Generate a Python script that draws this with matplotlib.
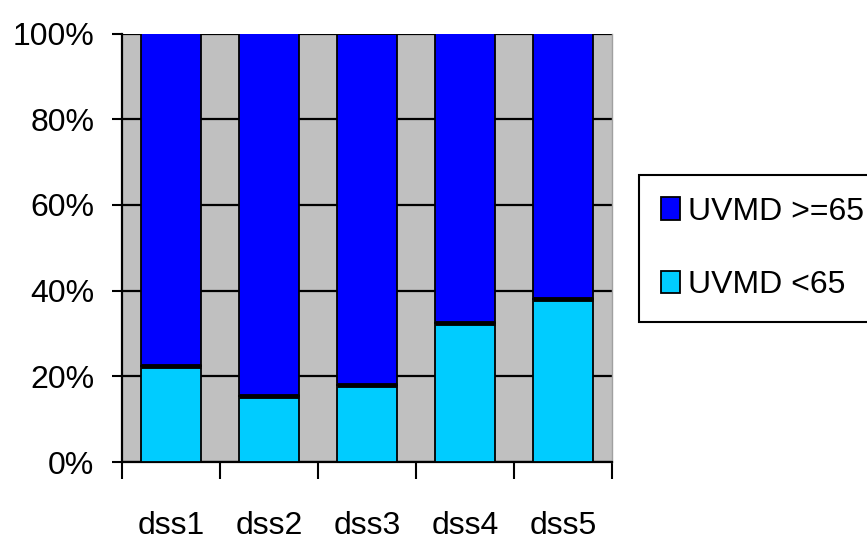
import matplotlib
matplotlib.use("Agg")
import matplotlib.pyplot as plt
import numpy as np

# Data: share of each group per dataset (percent)
categories = ["dss1", "dss2", "dss3", "dss4", "dss5"]
uvmd_below_65 = [22.5, 15.5, 18, 32.5, 38]
uvmd_65_plus = [100 - v for v in uvmd_below_65]
y_ticks = [0, 20, 40, 60, 80, 100]
y_tick_labels = ["0%", "20%", "40%", "60%", "80%", "100%"]
series_names = ["UVMD >=65", "UVMD <65"]

plt.rcParams["font.family"] = ["Liberation Sans", "DejaVu Sans"]
FS = 23

fig = plt.figure(figsize=(8.67, 5.48), dpi=100)
ax = fig.add_axes([122 / 867, 86 / 548, 490 / 867, 428.5 / 548])
ax.set_facecolor("#C0C0C0")

x = np.arange(len(categories))
width = 0.62
low = np.array(uvmd_below_65)
high = np.array(uvmd_65_plus)

ax.bar(x, low, width, color="#00CCFF", edgecolor="black", linewidth=1.3,
       zorder=3, label=series_names[1])
ax.bar(x, high, width, bottom=low, color="#0000FF", edgecolor="black",
       linewidth=1.3, zorder=3, label=series_names[0])
# heavier divider between the two stacked segments
ax.hlines(low, x - width / 2, x + width / 2, colors="black", linewidth=3.5, zorder=4)

ax.set_xlim(-0.5, len(categories) - 0.5)
ax.set_ylim(0, 100)

# horizontal gridlines
ax.set_yticks(y_ticks)
ax.set_yticklabels(y_tick_labels, fontsize=FS)
ax.yaxis.grid(True, color="black", linewidth=1.6, zorder=1)
ax.set_axisbelow(True)
ax.tick_params(axis="y", length=7, width=1.5, pad=13, color="black")

# category ticks between bars, labels centred under bars
ax.set_xticks(np.arange(len(categories) + 1) - 0.5)
ax.set_xticklabels([])
ax.set_xticks(x, minor=True)
ax.set_xticklabels(categories, minor=True, fontsize=FS)
ax.tick_params(axis="x", which="major", length=12, width=1.5, direction="out")
ax.tick_params(axis="x", which="minor", length=0, pad=35)

ax.spines["top"].set_visible(False)
ax.spines["right"].set_color("#A0A0A0")
ax.spines["right"].set_linewidth(1.0)
ax.spines["left"].set_linewidth(1.6)
ax.spines["bottom"].set_linewidth(1.6)

handles, labels = ax.get_legend_handles_labels()
leg = fig.legend(handles[::-1], labels[::-1], loc="upper left",
                 bbox_to_anchor=(639 / 867, 1 - 175 / 548),
                 fontsize=FS, frameon=True, fancybox=False, framealpha=1,
                 edgecolor="black", handlelength=0.6, handleheight=0.7,
                 handletextpad=0.25, labelspacing=1.37, borderpad=0.68,
                 borderaxespad=0)
leg.get_frame().set_linewidth(1.5)

fig.savefig("out.png", dpi=100)
